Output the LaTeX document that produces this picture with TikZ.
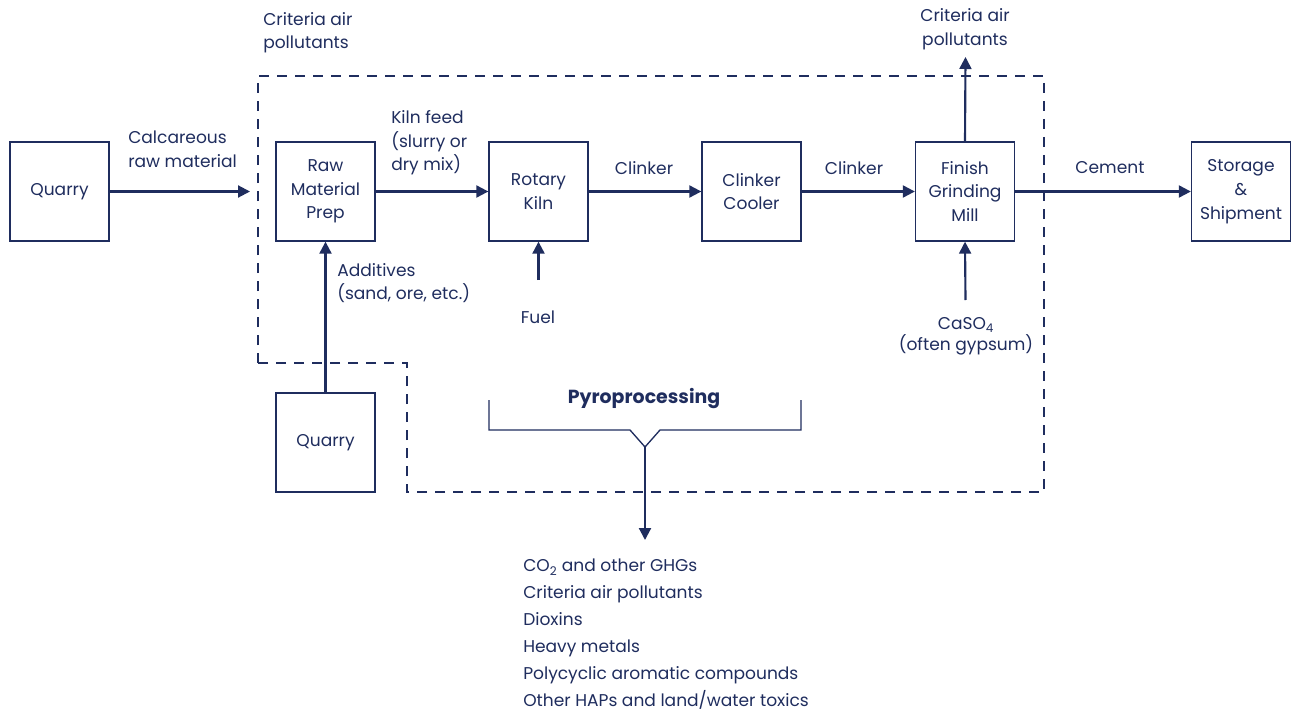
\documentclass[tikz,border=0pt]{standalone}
\usepackage{fontspec}
\setmainfont{Poppins}
\usetikzlibrary{arrows.meta}
\definecolor{navy}{RGB}{31,45,94}
\begin{document}
\begin{tikzpicture}[x=0.75pt,y=-0.75pt,
  every node/.style={text=navy,font=\fontsize{12.8}{17.8}\selectfont},
  boxn/.style={draw=navy,line width=1pt,minimum width=74.25pt,minimum height=74.25pt,inner sep=0pt,align=center},
  flow/.style={draw=navy,line width=1.6pt,-{Triangle[length=9pt,width=9pt]}},
  lbl/.style={align=left,anchor=north west,inner sep=0pt},
  clbl/.style={align=center,inner sep=0pt},
  bound/.style={draw=navy,line width=1.5pt,dash pattern=on 7.5pt off 6pt}]
\useasboundingbox (0,0) rectangle (1291,713);
% boundary
\draw[bound] (258,363) -- (258,76) -- (1044,76) -- (1044,492) -- (407,492) -- (407,363) -- cycle;
% boxes
\node[boxn] (q1) at (59.5,191.5) {Quarry};
\node[boxn] (rm) at (325.5,191.5) {Raw\\Material\\Prep};
\node[boxn] (rk) at (538.5,191.5) {Rotary\\Kiln};
\node[boxn] (cc) at (751.5,191.5) {Clinker\\Cooler};
\node[boxn] (fg) at (965,191.5) {Finish\\Grinding\\Mill};
\node[boxn] (ss) at (1241,191.5) {Storage\\\&\\Shipment};
\node[boxn] (q2) at (325.5,442.5) {Quarry};
% free ends
\coordinate (qend) at (250,191.5);
\coordinate (fuel0) at (538.5,280);
\coordinate (top) at (965.5,57);
\coordinate (ca0) at (965.5,300);
\coordinate (v) at (645,447);
\coordinate (out) at (645,540);
% arrows
\draw[flow] (q1.east) -- (qend);
\draw[flow] (rm.east) -- (rk.west);
\draw[flow] (rk.east) -- (cc.west);
\draw[flow] (cc.east) -- (fg.west);
\draw[flow] (fg.east) -- (ss.west);
\draw[flow] (fuel0) -- (rk.south);
\draw[flow] (ca0) -- (fg.south);
\draw[flow] (fg.north) -- (top);
\draw[flow] (q2.north) -- (rm.south);
% labels
\node[lbl] (l1) at (128,131) {Calcareous\\raw material};
\node[lbl] (l2) at (263,12) {Criteria air\\pollutants};
\node[lbl] (l3) at (391,110) {Kiln feed\\(slurry or\\dry mix)};
\node[clbl] (l4) at (644,168) {Clinker};
\node[clbl] (l5) at (854,168) {Clinker};
\node[clbl] (l6) at (1110,168) {Cement};
\node[clbl] (l7) at (965,29.5) {Criteria air\\pollutants};
\node[lbl] (l8) at (337,263) {Additives\\(sand, ore, etc.)};
\node[clbl] (l9) at (538,317) {Fuel};
\node[clbl,font=\fontsize{12.8}{16}\selectfont] (l10) at (966,336) {CaSO\textsubscript{4}\\(often gypsum)};
% bracket
\node[clbl,font=\fontsize{14.2}{17}\selectfont\bfseries] (pp) at (644,399) {Pyroprocessing};
\draw[draw=navy,line width=1pt] (489,400) -- (489,430) -- (630,430) -- (v) -- (660,430) -- (801,430) -- (801,400);
\draw[flow] (v) -- (out);
\node[lbl,font=\fontsize{12.8}{20.25}\selectfont] (list) at (523,559) {CO\textsubscript{2} and other GHGs\\Criteria air pollutants\\Dioxins\\Heavy metals\\Polycyclic aromatic compounds\\Other HAPs and land/water toxics};
\end{tikzpicture}
\end{document}
